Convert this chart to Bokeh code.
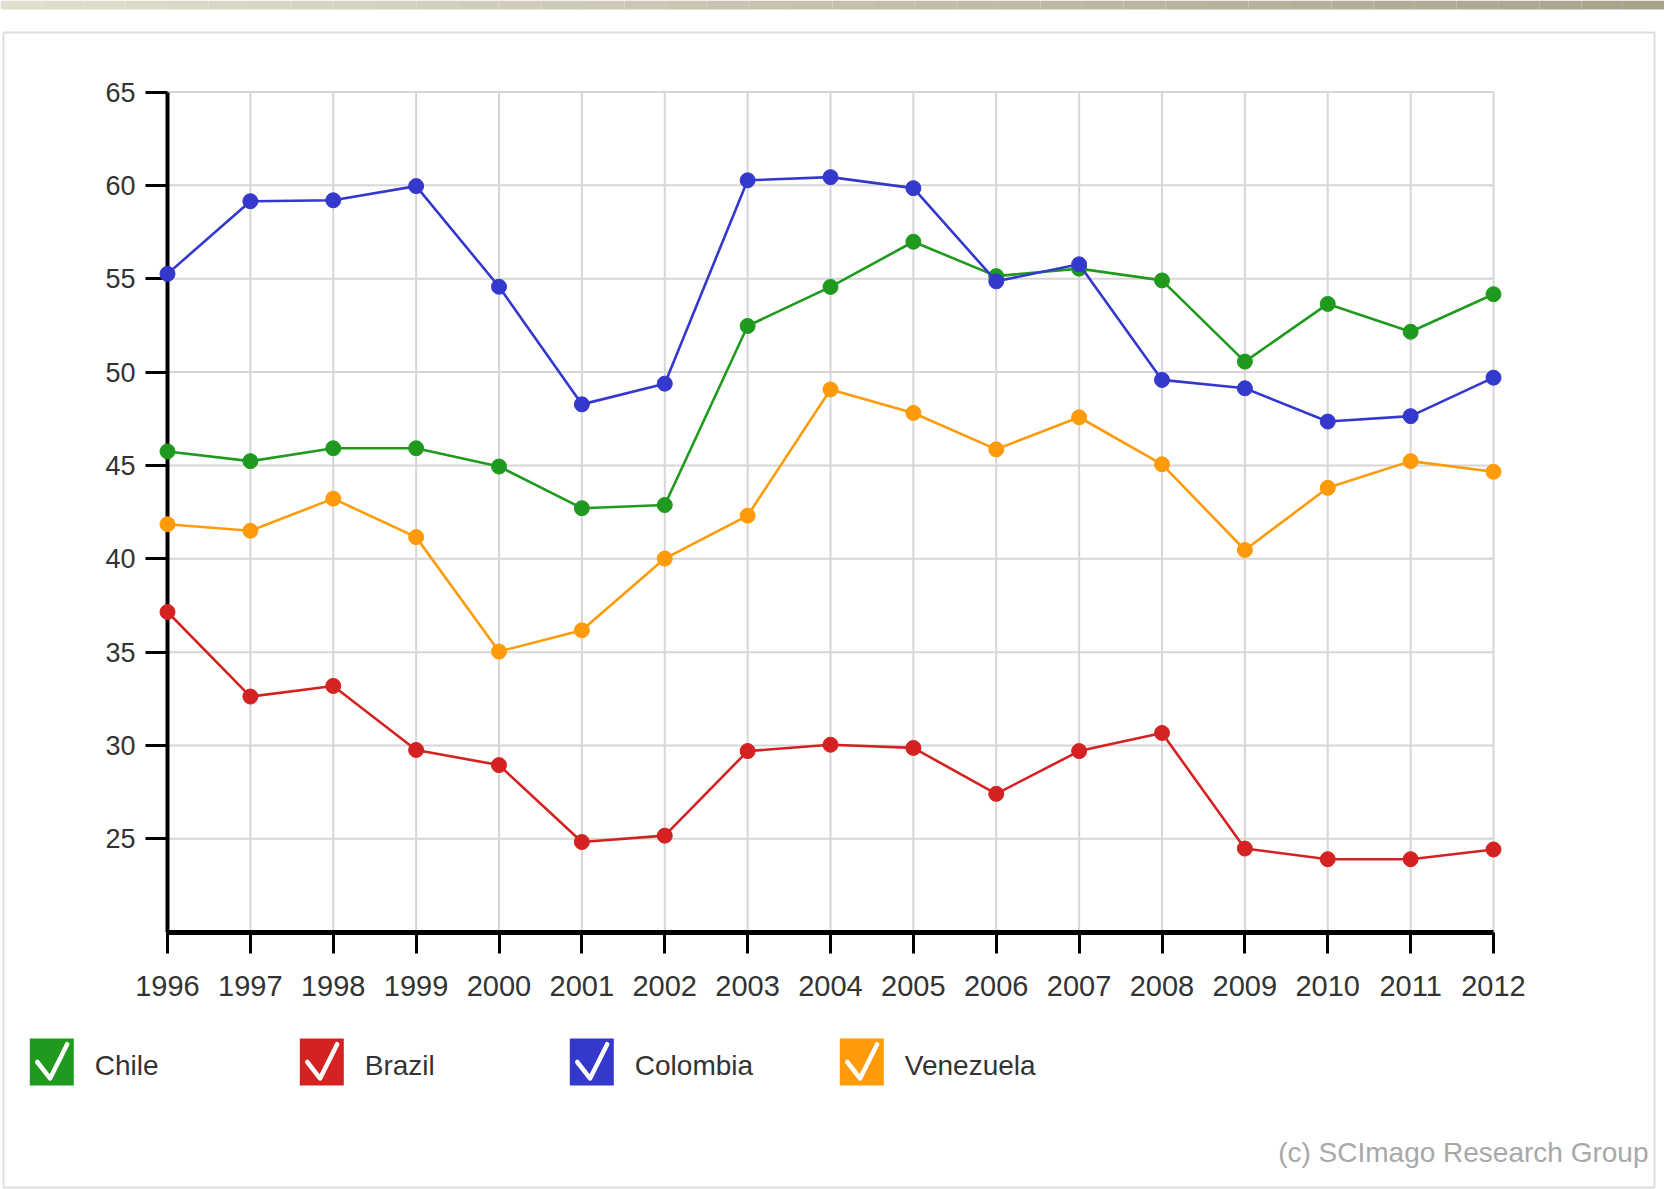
from bokeh.plotting import figure
from bokeh.models import Range1d, LinearAxis, FixedTicker
from bokeh.embed import file_html
from bokeh.resources import INLINE
from bokeh.core.properties import value

# ---------------- data ----------------
years = list(range(1996, 2013))
chile = [45.75, 45.23, 45.92, 45.92, 44.94, 42.71, 42.88, 52.47, 54.56, 56.98,
         55.14, 55.54, 54.91, 50.56, 53.65, 52.16, 54.17]
brazil = [37.15, 32.62, 33.19, 29.76, 28.95, 24.83, 25.17, 29.70, 30.04, 29.87,
          27.41, 29.70, 30.67, 24.48, 23.91, 23.91, 24.43]
colombia = [55.26, 59.15, 59.20, 59.96, 54.57, 48.27, 49.38, 60.27, 60.44, 59.85,
            54.86, 55.77, 49.58, 49.13, 47.35, 47.64, 49.70]
venezuela = [41.85, 41.50, 43.22, 41.16, 35.03, 36.17, 40.01, 42.31, 49.07, 47.81,
             45.86, 47.58, 45.06, 40.47, 43.80, 45.23, 44.66]
series_names = ["Chile", "Brazil", "Colombia", "Venezuela"]
series_values = [chile, brazil, colombia, venezuela]
series_colors = ["#1f9a1f", "#d42222", "#3438cc", "#ff9a0a"]
y_ticks = [25, 30, 35, 40, 45, 50, 55, 60, 65]
y_min, y_max = 20, 65
credit = "(c) SCImago Research Group"

# ---------------- layout (pixels inside the figure) ----------------
W, H = 1664, 1189
PX_X_FIRST, PX_X_LAST = 167.0, 1493.0     # x pixel of first / last year
PX_Y_TOP, PX_Y_BOT = 91.5, 931.7          # y pixel of y_max / y_min
kx = (PX_X_LAST - PX_X_FIRST) / (years[-1] - years[0])
ky = (PX_Y_BOT - PX_Y_TOP) / (y_max - y_min)
x_start = years[0] - PX_X_FIRST / kx
x_end = x_start + W / kx
y_end = y_max + PX_Y_TOP / ky
y_start = y_end - H / ky


def dx(px):
    return x_start + px / kx


def dy(py):
    return y_end - py / ky


FONT = "Liberation Sans"

p = figure(width=W, height=H, output_backend="svg", toolbar_location=None,
           x_range=Range1d(x_start, x_end), y_range=Range1d(y_start, y_end),
           x_axis_location=None, y_axis_location=None, min_border=0)
p.outline_line_color = None
p.background_fill_color = "white"
p.border_fill_color = "white"
p.grid.visible = False

# top beige band (gradient approximation)
n_band = 40
band_l = [dx(W * i / n_band) for i in range(n_band)]
band_r = [dx(W * (i + 1) / n_band) for i in range(n_band)]
c0, c1 = (226, 222, 206), (168, 164, 140)
band_c = ["#%02x%02x%02x" % tuple(int(c0[k] + (c1[k] - c0[k]) * i / (n_band - 1)) for k in range(3))
          for i in range(n_band)]
p.quad(left=band_l, right=band_r, top=dy(0), bottom=dy(9), fill_color=band_c, line_color=None)

# outer light frame
p.multi_line(xs=[[dx(3), dx(1654), dx(1654), dx(3), dx(3)]],
             ys=[[dy(32), dy(32), dy(1187), dy(1187), dy(32)]],
             line_color="#dedede", line_width=2)

# grid
grid_col = "#d6d6d6"
p.segment(x0=years[0], x1=years[-1], y0=y_ticks, y1=y_ticks,
          line_color=grid_col, line_width=2, level="image")
p.segment(x0=years[1:], x1=years[1:], y0=y_min, y1=y_max,
          line_color=grid_col, line_width=2, level="image")

# axes
yaxis = LinearAxis(fixed_location=years[0], bounds=(y_min, y_max),
                   ticker=FixedTicker(ticks=y_ticks))
yaxis.axis_line_width = 4
yaxis.axis_line_color = "black"
yaxis.major_tick_out = 22
yaxis.major_tick_in = 0
yaxis.minor_tick_out = 0
yaxis.major_tick_line_width = 3
yaxis.major_label_standoff = 10
yaxis.major_label_text_font = FONT
yaxis.major_label_text_font_size = "27px"
yaxis.major_label_text_color = "#333333"
yaxis.level = "underlay"
p.add_layout(yaxis, "left")

xaxis = LinearAxis(fixed_location=y_min, bounds=(years[0], years[-1]),
                   ticker=FixedTicker(ticks=years))
xaxis.axis_line_width = 5
xaxis.axis_line_color = "black"
xaxis.major_tick_out = 21
xaxis.major_tick_in = 0
xaxis.minor_tick_out = 0
xaxis.major_tick_line_width = 3
xaxis.major_label_standoff = 23
xaxis.major_label_text_font = FONT
xaxis.major_label_text_font_size = "29px"
xaxis.major_label_text_color = "#333333"
xaxis.level = "underlay"
p.add_layout(xaxis, "below")

# series
for vals, col in zip(series_values, series_colors):
    p.line(years, vals, line_color=col, line_width=2.6)
    p.scatter(years, vals, size=15, fill_color=col, line_color=col)

# legend (custom check boxes)
leg_cx = [51.3 + 270 * i for i in range(len(series_names))]
leg_cy = 1061.5
p.rect(x=[dx(c) for c in leg_cx], y=dy(leg_cy), width=44, height=47,
       width_units="screen", height_units="screen",
       fill_color=series_colors, line_color=None)
chk_xs, chk_ys = [], []
for c in leg_cx:
    left, top = c - 22, leg_cy - 23.5
    chk_xs.append([dx(left + 0.17 * 44), dx(left + 0.46 * 44), dx(left + 0.85 * 44)])
    chk_ys.append([dy(top + 0.50 * 47), dy(top + 0.85 * 47), dy(top + 0.12 * 47)])
p.multi_line(xs=chk_xs, ys=chk_ys, line_color="white", line_width=4.5,
             line_join="round", line_cap="round")
p.text(x=[dx(c + 43) for c in leg_cx], y=dy(1065), text=series_names,
       text_font=value(FONT), text_font_size="28px", text_color="#333333",
       text_baseline="middle", text_align="left")

# credit
p.text(x=[dx(1648)], y=[dy(1152)], text=[credit], text_font=value(FONT),
       text_font_size="28px", text_color="#a8a8a8",
       text_baseline="middle", text_align="right")

open("out.html", "w").write(file_html(p, INLINE))
